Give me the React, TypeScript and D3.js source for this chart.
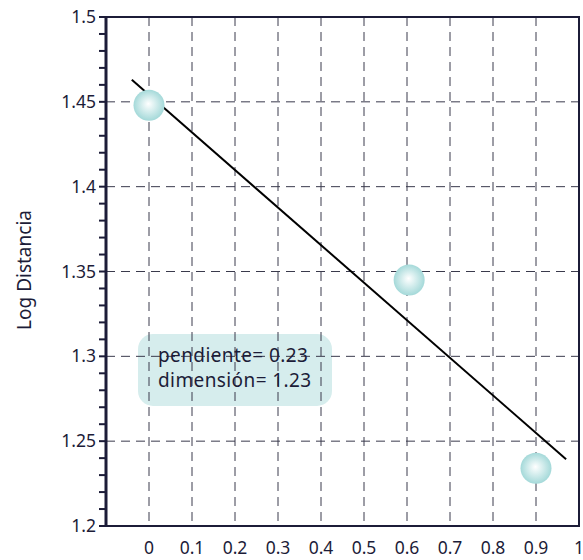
import React from 'react';
import * as d3 from 'd3';

const width = 583;
const height = 560;

// puntos medidos: log(1/escala) vs log distancia
const xValues = [0, 0.605, 0.9];
const yValues = [1.448, 1.345, 1.234];
// recta de ajuste, extremos
const fitX = [-0.04, 0.97];
const fitY = [1.463, 1.2393];

const xTickValues = [0, 0.1, 0.2, 0.3, 0.4, 0.5, 0.6, 0.7, 0.8, 0.9, 1];
const xTickLabels = ['0', '0.1', '0.2', '0.3', '0.4', '0.5', '0.6', '0.7', '0.8', '0.9', '1'];
const yTickValues = [1.2, 1.25, 1.3, 1.35, 1.4, 1.45, 1.5];
const yTickLabels = ['1.2', '1.25', '1.3', '1.35', '1.4', '1.45', '1.5'];
const annotation = ['pendiente= 0.23', 'dimensión= 1.23'];
const yTitle = 'Log Distancia';

const ink = '#1c1c38';
const font = '"Noto Sans", "Open Sans", sans-serif';

const x = d3.scaleLinear().domain([-0.1, 1]).range([106, 579]);
const y = d3.scaleLinear().domain([1.2, 1.5]).range([526, 17]);

const App = () => {
  const points = xValues.map((v, i) => ({ x: v, y: yValues[i] }));
  const fitLine = d3
    .line<number>()
    .x(d => x(d))
    .y((d, i) => y(fitY[i]));

  const minorTicks = d3.range(0, 31).map(i => 1.2 + i * 0.01);

  return (
    <svg
      width={width}
      height={height}
      style={{ position: 'absolute', left: 0, top: 0, background: '#fff' }}
    >
      <defs>
        <radialGradient id="ball" cx="50%" cy="50%" r="50%" fx="48%" fy="45%">
          <stop offset="0%" stopColor="#ffffff" />
          <stop offset="100%" stopColor="#a4d9d9" />
        </radialGradient>
      </defs>

      {/* caja de anotacion */}
      <rect x={138} y={334} width={194} height={72} rx={15} fill="#d6eded" />

      {/* rejilla */}
      <g stroke="#3a3a4c" strokeWidth={1} strokeDasharray="9,6">
        {xTickValues.slice(0, -1).map(t => (
          <line key={'vx' + t} x1={x(t)} x2={x(t)} y1={y(1.5)} y2={y(1.2)} />
        ))}
        {yTickValues.slice(1, -1).map(t => (
          <line key={'hy' + t} x1={x(-0.1)} x2={x(1)} y1={y(t)} y2={y(t)} />
        ))}
      </g>

      <text fontFamily={font} fontSize={19} letterSpacing={0.4} fill={ink}>
        {annotation.map((s, i) => (
          <tspan key={s} x={158} y={362 + i * 25}>
            {s}
          </tspan>
        ))}
      </text>

      {/* ticks menores eje y */}
      <g stroke={ink} strokeWidth={2}>
        {minorTicks.map(t => (
          <line key={'m' + t.toFixed(2)} x1={x(-0.1) - 7} x2={x(-0.1)} y1={y(t)} y2={y(t)} />
        ))}
      </g>

      {/* marco */}
      <rect
        x={x(-0.1)}
        y={y(1.5)}
        width={x(1) - x(-0.1)}
        height={y(1.2) - y(1.5)}
        fill="none"
        stroke={ink}
        strokeWidth={2}
      />
      <line x1={x(-0.1)} x2={x(-0.1)} y1={y(1.5) - 1} y2={y(1.2) + 1} stroke={ink} strokeWidth={3} />

      <path d={fitLine(fitX) || ''} fill="none" stroke="#000" strokeWidth={2} />

      {points.map(p => (
        <circle key={p.x} cx={x(p.x)} cy={y(p.y)} r={15.5} fill="url(#ball)" />
      ))}

      <g fontFamily={font} fontSize={17.5} fill={ink}>
        {yTickValues.map((t, i) => (
          <text key={'yl' + t} x={x(-0.1) - 10} y={y(t)} dy="0.35em" textAnchor="end">
            {yTickLabels[i]}
          </text>
        ))}
        {xTickValues.map((t, i) => (
          <text key={'xl' + t} x={x(t)} y={554} textAnchor="middle">
            {xTickLabels[i]}
          </text>
        ))}
      </g>

      <text
        transform="translate(31,270) rotate(-90)"
        textAnchor="middle"
        fontFamily={font}
        fontSize={19}
        fill={ink}
      >
        {yTitle}
      </text>
    </svg>
  );
};

export default App;
